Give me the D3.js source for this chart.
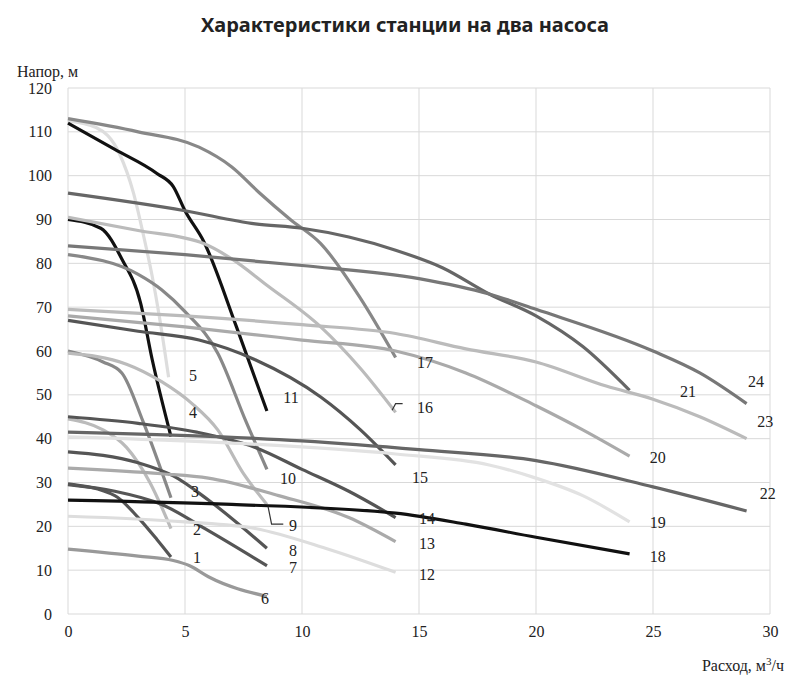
<!DOCTYPE html><html><head><meta charset="utf-8"><script src="https://cdn.jsdelivr.net/npm/d3@7"></script>
<style>body{margin:0;background:#fff}text{font-family:"Liberation Serif","DejaVu Serif",serif}</style></head><body><svg id="c" width="800" height="687"></svg>
<script>
const xTicks=[0,5,10,15,20,25,30];
const yTicks=[0,10,20,30,40,50,60,70,80,90,100,110,120];
const curveNames=["1","2","3","4","5","6","7","8","9","10","11","12","13","14","15","16","17","18","19","20","21","22","23","24"];
const curves=[
[[0,29.7],[2,27],[3,22],[3.8,17],[4.4,13]],
[[0,44.5],[1.5,42],[2.5,38],[3.5,30],[4.4,19.5]],
[[0,60],[1.5,57.5],[2.3,55],[3.2,44],[4.4,26.5]],
[[0,90],[1.4,88],[2.3,81],[3.1,71],[3.6,58],[4.4,40.5]],
[[0,112.5],[1.2,111],[2.2,105],[2.8,96],[3.2,87],[3.6,77],[3.9,68],[4.3,54]],
[[0,14.8],[3,13.2],[4.5,12.2],[5.2,11],[6,8.5],[8.5,4]],
[[0,29.5],[2,28],[4,25],[6,19],[8.5,11]],
[[0,37],[3,34.5],[4.5,31.5],[6,26],[8.5,15]],
[[0,59.5],[2.5,57],[4,53],[5.3,48],[6.4,42],[7.5,32],[8.5,25]],
[[0,82],[3,77.5],[4,74],[5,69],[6.4,59.5],[7.6,44],[8.5,33]],
[[0,112],[2,106],[3.8,100.5],[4.5,97.5],[5,92],[5.8,85],[7.2,65.5],[8.5,46.3]],
[[0,22.3],[5,21],[8,19.5],[11,15],[14,9.5]],
[[0,33.3],[4,32],[6,31],[9,27],[12,22],[14,16.5]],
[[0,45],[3,43.5],[5.5,41.5],[8,38],[10,33],[12,28],[14,22]],
[[0,67],[3,64.5],[5.6,62.5],[8,58],[10.8,49.5],[12.5,42],[14,34]],
[[0,90.5],[3,87.5],[5.8,84.5],[7,81],[8.5,75],[10.8,65.5],[12.5,56],[14,46]],
[[0,113],[3,110],[5.6,106.5],[7,102],[8.2,96],[9.5,90],[10.8,84.5],[12.5,72],[14,58.5]],
[[0,26],[7,25],[14,23],[17,20.5],[20,17.5],[24,13.7]],
[[0,40.4],[7,39],[14,36.5],[18,34],[20,31],[22,27],[24,21]],
[[0,68],[5,65.5],[10,62.5],[14,60],[17,55],[20,47.5],[22,42],[24,36]],
[[0,96],[5,92],[8,89],[10,88],[12,86],[14,83],[16,79],[18,73],[20,68],[22,61],[24,51]],
[[0,41.5],[10,39.5],[15,37.5],[20,35],[25,29],[29,23.5]],
[[0,69.5],[5,68],[10,66],[14,64],[17,60.5],[20,57.5],[23,52],[25,49],[27,45],[29,40]],
[[0,84],[5,82],[10,79.5],[15,76.5],[18,73],[20,69.5],[25,60],[27,55],[29,48]]
];
const labelPos=[[5.51,13],[5.51,19.2],[5.43,27.9],[5.34,46.1],[5.34,54.5],[8.42,3.6],[9.62,10.7],[9.62,14.6],[9.62,20.3],[9.4,31],[9.53,49.5],[15.34,9.1],[15.34,16.2],[15.34,21.9],[15.04,31.2],[15.26,47.2],[15.26,57.5],[25.2,13.2],[25.2,21],[25.2,35.8],[26.5,50.8],[29.9,27.6],[29.8,44],[29.4,53.1]];
const colors=["#555","#bbb","#888","#111","#ddd","#999","#555","#555","#bbb","#888","#111","#ddd","#aaa","#555","#555","#bbb","#888","#111","#e2e2e2","#aaa","#666","#666","#bbb","#777"];
const leaders=[[[8.55,24.5],[8.7,20.5],[9.2,20.5]],[[13.85,46.5],[14.0,48],[14.3,48]]];
const svg=d3.select("#c");
const x=d3.scaleLinear().domain([0,30]).range([68,770]);
const y=d3.scaleLinear().domain([0,120]).range([614,88]);
const g=svg.append("g");
g.selectAll(".gx").data(xTicks).join("line").attr("x1",d=>x(d)).attr("x2",d=>x(d)).attr("y1",y(0)).attr("y2",y(120)).attr("stroke","#d9d9d9");
g.selectAll(".gy").data(yTicks).join("line").attr("x1",x(0)).attr("x2",x(30)).attr("y1",d=>y(d)).attr("y2",d=>y(d)).attr("stroke","#d9d9d9");
const xa=svg.append("g").attr("transform",`translate(0,${y(0)})`).call(d3.axisBottom(x).tickValues(xTicks).tickSize(0).tickPadding(12));
const ya=svg.append("g").attr("transform",`translate(${x(0)},0)`).call(d3.axisLeft(y).tickValues(yTicks).tickSize(0).tickPadding(16));
[xa,ya].forEach(a=>{a.select(".domain").remove();a.selectAll("text").attr("font-size",16).attr("fill","#222").attr("font-family","Liberation Serif, serif");});
const line=d3.line().x(d=>x(d[0])).y(d=>y(d[1])).curve(d3.curveMonotoneX);
svg.append("g").selectAll("path").data(curves).join("path").attr("d",line).attr("fill","none").attr("stroke",(d,i)=>colors[i]).attr("stroke-width",3.2);
svg.append("g").selectAll("path").data(leaders).join("path").attr("d",d3.line().x(d=>x(d[0])).y(d=>y(d[1]))).attr("fill","none").attr("stroke","#333").attr("stroke-width",1.2);
svg.append("g").selectAll("text").data(curveNames).join("text").attr("x",(d,i)=>x(labelPos[i][0])).attr("y",(d,i)=>y(labelPos[i][1])).attr("dy","0.35em").attr("text-anchor","middle").attr("font-size",16).attr("fill","#222").text(d=>d);
svg.append("text").attr("x",405).attr("y",32).attr("text-anchor","middle").style("font-size","20px").style("font-weight","bold").style("font-family","'Noto Sans', sans-serif").attr("fill","#222").text("Характеристики станции на два насоса");
svg.append("text").attr("x",17).attr("y",77).attr("font-size",16).attr("fill","#222").text("Напор, м");
svg.append("text").attr("x",784).attr("y",671).attr("text-anchor","end").attr("font-size",16).attr("fill","#222").html("Расход, м<tspan dy='-6' font-size='11'>3</tspan><tspan dy='6'>/ч</tspan>");
</script></body></html>
